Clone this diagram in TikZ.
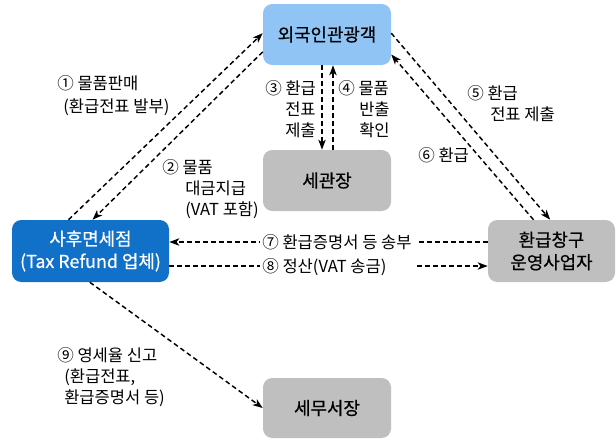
\documentclass[tikz,border=0pt]{standalone}
\usepackage{fontspec}
\setmainfont{Noto Sans CJK KR}
\newfontfamily\boxfont[FakeBold=0.6]{Noto Sans CJK KR}
\usetikzlibrary{arrows.meta}
\definecolor{tourbl}{RGB}{144,196,245}
\definecolor{shopbl}{RGB}{17,112,200}
\definecolor{boxgr}{RGB}{191,191,191}
\tikzset{
  box/.style={rectangle, rounded corners=7pt, inner sep=0pt, align=center,
    font=\boxfont\fontsize{13.4}{16.9}\selectfont},
  flow/.style={line width=1.1pt, dash pattern=on 3.6pt off 2.4pt,
    -{Stealth[length=7.5pt,width=5.5pt,inset=2pt]}},
  lbl/.style={anchor=base west, inner sep=0pt,
    font=\fontsize{12.4}{15.75}\selectfont},
  midlbl/.style={anchor=base west, inner xsep=1.5pt, inner ysep=0pt, fill=white,
    font=\fontsize{12.4}{15.75}\selectfont}
}
\begin{document}
\begin{tikzpicture}[x=0.75pt,y=-0.75pt]
\useasboundingbox (0,0) rectangle (616,440);
% boxes
\node[box, fill=tourbl, minimum width=96pt, minimum height=45.75pt] (tourist) at (327,34.5) {외국인관광객};
\node[box, fill=boxgr, minimum width=96pt, minimum height=45.75pt] (customs) at (327,180.5) {세관장};
\node[box, fill=shopbl, text=white, minimum width=117.75pt, minimum height=46.5pt] (shop) at (90.5,251) {사후면세점\\(Tax Refund 업체)};
\node[box, fill=boxgr, minimum width=95.25pt, minimum height=46.5pt] (refund) at (551.5,251) {환급창구\\운영사업자};
\node[box, fill=boxgr, minimum width=96pt, minimum height=45pt] (tax) at (327,408) {세무서장};
% connectors
\draw[flow] ([xshift=-16.5pt]shop.north) -- ([yshift=1pt]tourist.west);
\draw[flow] ([yshift=-13pt]tourist.west) -- ([xshift=1.5pt]shop.north);
\draw[flow] ([xshift=-3.75pt]tourist.south) -- ([xshift=-3.75pt]customs.north);
\draw[flow] ([xshift=4.5pt]customs.north) -- ([xshift=4.5pt]tourist.south);
\draw[flow] ([yshift=1pt]tourist.east) -- ([xshift=-1pt]refund.north);
\draw[flow] ([xshift=-13.5pt]refund.north) -- ([yshift=-15pt]tourist.east);
\draw[flow] ([yshift=6.75pt]refund.west) -- ([yshift=6.75pt]shop.east);
\draw[flow] ([yshift=-11.25pt]shop.east) -- ([yshift=-11.25pt]refund.west);
\draw[flow] ([xshift=-0.5pt]shop.south) -- (tax.west);
% labels
\node[lbl] (l1) at (57,89) {\begin{tabular}[t]{@{}l@{}}① 물품판매\\[1.5pt]\hspace*{4.5pt}(환급전표 발부)\end{tabular}};
\node[lbl] (l2) at (162,173) {\begin{tabular}[t]{@{}l@{}}② 물품\\\hspace*{17.25pt}대금지급\\\hspace*{17.25pt}(VAT 포함)\end{tabular}};
\node[lbl] (l3) at (265,94) {\begin{tabular}[t]{@{}l@{}}③ 환급\\\hspace*{15pt}전표\\\hspace*{15pt}제출\end{tabular}};
\node[lbl] (l4) at (338,94) {\begin{tabular}[t]{@{}l@{}}④ 물품\\\hspace*{15.75pt}반출\\\hspace*{15.75pt}확인\end{tabular}};
\node[lbl] (l5) at (467,99) {\begin{tabular}[t]{@{}l@{}}⑤ 환급\\\hspace*{17.25pt}전표 제출\end{tabular}};
\node[lbl] (l6) at (418,161) {⑥ 환급};
\node[midlbl] (l7) at (260,248) {\begin{tabular}[t]{@{}p{115.5pt}@{}}⑦ 환급증명서 등 송부\end{tabular}};
\node[midlbl] (l8) at (260,272) {\begin{tabular}[t]{@{}p{113.25pt}@{}}⑧ 정산(VAT 송금)\end{tabular}};
\node[lbl] (l9) at (57,361) {\begin{tabular}[t]{@{}l@{}}⑨ 영세율 신고\\\hspace*{5.25pt}(환급전표,\\\hspace*{5.25pt}환급증명서 등)\end{tabular}};
\end{tikzpicture}
\end{document}
